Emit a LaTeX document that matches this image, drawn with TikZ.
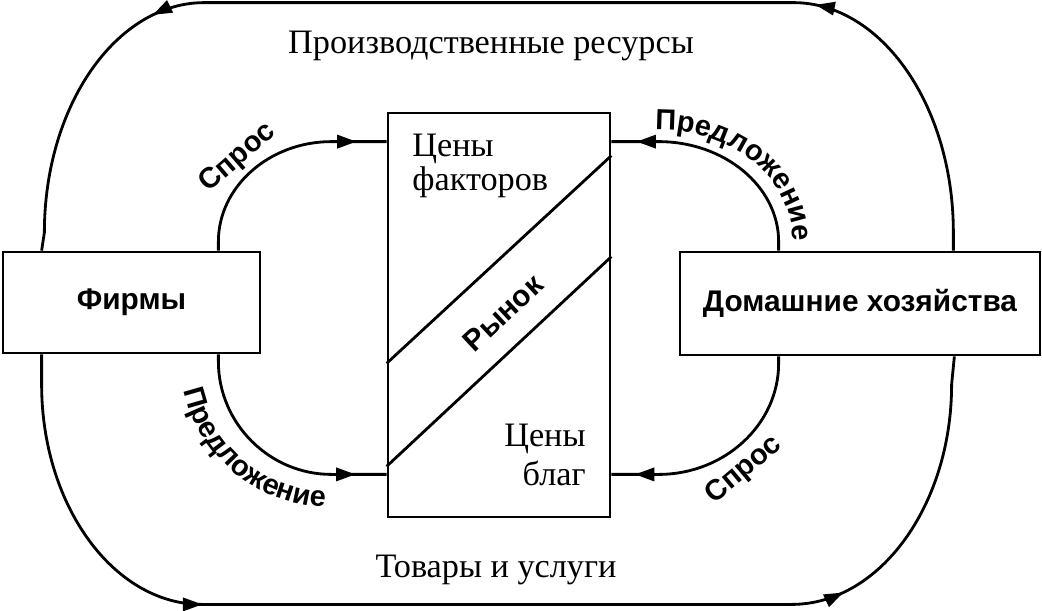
\documentclass[tikz,border=0pt]{standalone}
\usepackage{fontspec}
\setmainfont{Liberation Serif}
\setsansfont{Liberation Sans}
\usetikzlibrary{arrows.meta, calc, decorations.markings, decorations.text}
\newcommand{\flowfont}{\sffamily\bfseries\fontsize{16.5}{18}\selectfont}

\begin{document}
\begin{tikzpicture}[
  x=0.02cm, y=-0.02cm,
  >={Triangle[length=11pt,width=7.5pt]},
  line width=1.6pt,
  every node/.style={font=\fontsize{19.5}{19}\selectfont},
  box/.style={draw, line width=1.6pt, inner sep=0pt},
  agent/.style={box, font=\sffamily\bfseries\fontsize{17}{19}\selectfont},
  flowlbl/.style={font=\flowfont, inner sep=1pt},
  flow/.style={postaction={decorate}, decoration={markings,
    mark=at position #1 with {\arrow{>}}}},
  loopflow/.style 2 args={postaction={decorate}, decoration={markings,
    mark=at position #1 with {\arrow{>}},
    mark=at position #2 with {\arrow{>}}}}
]
\useasboundingbox (0,0) rectangle (1042,610);

% ---- AGENTS ----
\node[agent, minimum width=5.14cm, minimum height=2.02cm] (firm)
  at (131.5,302.5) {Фирмы\hspace{8pt}};
\node[agent, minimum width=7.2cm, minimum height=2.06cm] (house)
  at (860,303.5) {Домашние хозяйства};

% ---- MARKET ----
\node[box, minimum width=4.44cm, minimum height=8.08cm] (market)
  at (499,315) {};
\draw ($(market.south west)+(0,-155)$) -- ($(market.north east)+(0,44)$);
\draw ($(market.south west)+(0,-52)$) -- ($(market.north east)+(0,145)$);
\node[anchor=north west, align=left, inner sep=0pt] (fprice)
  at (411,133) {Цены\\факторов};
\node[anchor=north east, align=right, inner sep=0pt] (gprice)
  at (587,423) {Цены\\[3pt]благ};
\node[font=\sffamily\bfseries\fontsize{17}{19}\selectfont, rotate=43] (mkt)
  at (503,313) {Рынок};

% ---- INNER FLOWS ----
\draw[flow=0.87] ($(firm.north east)+(-43,0)$) -- ++(0,-9)
  .. controls +(0,-55) and +(-62,0) .. ++(113,-100)
  -- ($(market.north west)+(0,30)$);
\draw[flow=0.89] ($(house.north west)+(100,0)$) -- ++(0,-9)
  .. controls +(0,-55) and +(66,0) .. ++(-120,-100)
  -- ($(market.north east)+(0,30)$);
\draw[flow=0.87] ($(firm.south east)+(-43,0)$) -- ++(0,7)
  .. controls +(0,62) and +(-62,0) .. ++(113,113)
  -- ($(market.south west)+(0,-44)$);
\draw[flow=0.90] ($(house.south west)+(100,0)$) -- ++(0,7)
  .. controls +(0,61) and +(66,0) .. ++(-120,111)
  -- ($(market.south east)+(0,-44)$);

% flow labels
\node[flowlbl, rotate=41] (dfac) at (238,158) {Спрос};
\node[flowlbl, rotate=40] (dgood) at (744,470) {Спрос};
\path[decorate, decoration={text along path, text align={left indent=0pt},
    text={|\flowfont|Предложение}}]
  (655,130) -- (660,130) .. controls (733,130) and (793,178) .. (793,243)
  -- (793,320);
\path[decorate, decoration={text along path, text align={left indent=20pt},
    text={|\flowfont|Предложение}}]
  (181,355) -- (181,360) .. controls (181,441) and (248,507) .. (330,507)
  -- (450,507);

% ---- OUTER LOOP ----
\draw[loopflow={0.245}{0.78}] ($(house.north east)+(-88,0)$) -- ++(0,-18)
  .. controls +(0,-127) and +(88,0) .. ++(-160,-230) -- ++(-589,0)
  .. controls +(-88,0) and +(0,-127) .. ++(-160,230)
  -- ($(firm.north west)+(40,0)$);
\draw[loopflow={0.265}{0.78}] ($(firm.south west)+(40,0)$) -- ++(0,30)
  .. controls +(0,121) and +(-88,0) .. ++(160,220) -- ++(590,0)
  .. controls +(88,0) and +(0,121) .. ++(160,-220)
  -- ($(house.south east)+(-87,0)$);
\node[anchor=base] (res) at (491,53) {Производственные ресурсы};
\node[anchor=base] (goods) at (496,577) {Товары и услуги};

\end{tikzpicture}
\end{document}
